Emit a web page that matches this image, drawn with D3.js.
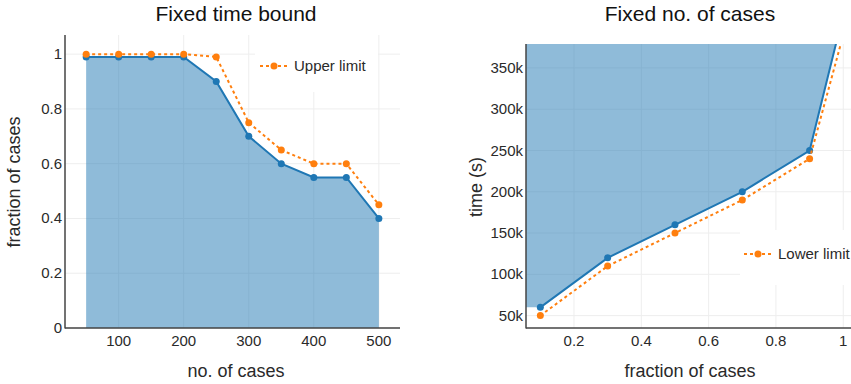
<!DOCTYPE html>
<html>
<head>
<meta charset="utf-8">
<script src="https://cdn.jsdelivr.net/npm/d3@7"></script>
<style>
  body { margin: 0; background: #fff; }
  svg { display: block; font-family: "Liberation Sans", Arial, sans-serif; }
</style>
</head>
<body>
<svg id="chart" width="851" height="384"></svg>
<script>
// left panel: fixed time bound
const casesX = [50, 100, 150, 200, 250, 300, 350, 400, 450, 500];
const fractionSolved = [0.99, 0.99, 0.99, 0.99, 0.90, 0.70, 0.60, 0.55, 0.55, 0.40];
const fractionUpper = [1.0, 1.0, 1.0, 1.0, 0.99, 0.75, 0.65, 0.60, 0.60, 0.45];
const leftXTicks = [100, 200, 300, 400, 500];
const leftYTicks = [0, 0.2, 0.4, 0.6, 0.8, 1];

// right panel: fixed no. of cases
const fractionX = [0.1, 0.3, 0.5, 0.7, 0.9, 1.0];
const timeNeeded = [60000, 120000, 160000, 200000, 250000, 415000];
const timeLower = [50000, 110000, 150000, 190000, 240000, 390000];
const rightXTicks = [0.2, 0.4, 0.6, 0.8, 1];
const rightYTicks = [50000, 100000, 150000, 200000, 250000, 300000, 350000];

const blue = '#1f77b4', orange = '#ff7f0e';
const svg = d3.select('#chart');

function panel(cfg) {
  const g = svg.append('g');
  const x = d3.scaleLinear().domain(cfg.xDomain).range([cfg.left, cfg.right]);
  const y = d3.scaleLinear().domain(cfg.yDomain).range([cfg.bottom, cfg.top]);

  const clipId = 'clip-' + cfg.id;
  svg.append('clipPath').attr('id', clipId)
    .append('rect')
    .attr('x', cfg.left).attr('y', cfg.top)
    .attr('width', cfg.right - cfg.left).attr('height', cfg.bottom - cfg.top);

  // grid
  g.append('g').selectAll('line.gx').data(cfg.xTicks).enter().append('line')
    .attr('x1', d => x(d)).attr('x2', d => x(d))
    .attr('y1', cfg.top).attr('y2', cfg.bottom)
    .attr('stroke', '#eee').attr('stroke-width', 1);
  g.append('g').selectAll('line.gy').data(cfg.yTicks).enter().append('line')
    .attr('x1', cfg.left).attr('x2', cfg.right)
    .attr('y1', d => y(d)).attr('y2', d => y(d))
    .attr('stroke', '#eee').attr('stroke-width', 1);

  // legend background hides grid
  g.append('rect')
    .attr('x', cfg.legend.x).attr('y', cfg.legend.y)
    .attr('width', cfg.legend.w).attr('height', cfg.legend.h)
    .attr('fill', '#fff');

  const plot = g.append('g').attr('clip-path', `url(#${clipId})`);

  plot.append('path')
    .attr('d', cfg.fillPath(x, y))
    .attr('fill', blue).attr('fill-opacity', 0.5);

  const line = d3.line().x(d => x(d[0])).y(d => y(d[1]));
  const main = cfg.xs.map((v, i) => [v, cfg.main[i]]);
  const bound = cfg.xs.map((v, i) => [v, cfg.bound[i]]);

  plot.append('path').attr('d', line(main))
    .attr('fill', 'none').attr('stroke', blue).attr('stroke-width', 2);
  plot.selectAll('circle.m').data(main).enter().append('circle')
    .attr('cx', d => x(d[0])).attr('cy', d => y(d[1])).attr('r', 3.5)
    .attr('fill', blue);

  plot.append('path').attr('d', line(bound))
    .attr('fill', 'none').attr('stroke', orange).attr('stroke-width', 2)
    .attr('stroke-dasharray', '3,3');
  plot.selectAll('circle.b').data(bound).enter().append('circle')
    .attr('cx', d => x(d[0])).attr('cy', d => y(d[1])).attr('r', 3.5)
    .attr('fill', orange);

  // axes lines
  g.append('line').attr('x1', cfg.left).attr('x2', cfg.left)
    .attr('y1', cfg.top).attr('y2', cfg.bottom + 0.5)
    .attr('stroke', '#444').attr('stroke-width', 1.5);
  g.append('line').attr('x1', cfg.left).attr('x2', cfg.right)
    .attr('y1', cfg.bottom).attr('y2', cfg.bottom)
    .attr('stroke', '#444').attr('stroke-width', 1.5);

  // tick labels
  g.append('g').selectAll('text').data(cfg.xTicks).enter().append('text')
    .attr('x', d => x(d)).attr('y', cfg.bottom + 18)
    .attr('text-anchor', 'middle').attr('font-size', 15).attr('fill', '#2a2a2a')
    .text(cfg.xFormat);
  g.append('g').selectAll('text').data(cfg.yTicks).enter().append('text')
    .attr('x', cfg.left - 3).attr('y', d => y(d) + 5)
    .attr('text-anchor', 'end').attr('font-size', 15).attr('fill', '#2a2a2a')
    .text(cfg.yFormat);

  // titles
  g.append('text').attr('x', cfg.titleX).attr('y', 21)
    .attr('text-anchor', 'middle').attr('font-size', 21).attr('fill', '#111')
    .text(cfg.title);
  g.append('text').attr('x', cfg.titleX).attr('y', 377)
    .attr('text-anchor', 'middle').attr('font-size', 18).attr('fill', '#2a2a2a')
    .text(cfg.xTitle);
  g.append('text')
    .attr('transform', `translate(${cfg.yTitleX},${cfg.yTitleY}) rotate(-90)`)
    .attr('text-anchor', 'middle').attr('font-size', 18).attr('fill', '#2a2a2a')
    .text(cfg.yTitle);

  // legend entry
  const lg = g.append('g');
  lg.append('line').attr('x1', cfg.legend.sx).attr('x2', cfg.legend.sx + 27)
    .attr('y1', cfg.legend.sy).attr('y2', cfg.legend.sy)
    .attr('stroke', orange).attr('stroke-width', 2).attr('stroke-dasharray', '3,3');
  lg.append('circle').attr('cx', cfg.legend.sx + 14).attr('cy', cfg.legend.sy)
    .attr('r', 3.5).attr('fill', orange);
  lg.append('text').attr('x', cfg.legend.sx + 34).attr('y', cfg.legend.sy + 5)
    .attr('font-size', 15).attr('fill', '#2a2a2a').text(cfg.legend.label);
}

panel({
  id: 'left', left: 65, right: 400, top: 35, bottom: 328,
  xDomain: [17.5, 532.5], yDomain: [0, 1.07],
  xTicks: leftXTicks, yTicks: leftYTicks,
  xFormat: d => d, yFormat: d => d,
  xs: casesX, main: fractionSolved, bound: fractionUpper,
  fillPath: (x, y) => d3.area().x(d => x(d[0])).y0(y(0)).y1(d => y(d[1]))(
    casesX.map((v, i) => [v, fractionSolved[i]])),
  title: 'Fixed time bound', titleX: 236,
  xTitle: 'no. of cases', yTitle: 'fraction of cases', yTitleX: 20, yTitleY: 182,
  legend: { x: 255, y: 35, w: 123, h: 57, sx: 260, sy: 66, label: 'Upper limit' }
});

panel({
  id: 'right', left: 526, right: 860, top: 44, bottom: 328,
  xDomain: [0.0574, 1.0497], yDomain: [35000, 379000],
  xTicks: rightXTicks, yTicks: rightYTicks,
  xFormat: d => d, yFormat: d => (d / 1000) + 'k',
  xs: fractionX, main: timeNeeded, bound: timeLower,
  fillPath: (x, y) => {
    const xd = x.domain(), yd = y.domain();
    const pts = [[xd[0], timeNeeded[0]]]
      .concat(fractionX.map((v, i) => [v, timeNeeded[i]]))
      .concat([[fractionX[fractionX.length - 1], yd[1] * 2], [xd[0], yd[1] * 2]]);
    return 'M' + pts.map(d => x(d[0]) + ',' + y(d[1])).join('L') + 'Z';
  },
  title: 'Fixed no. of cases', titleX: 690,
  xTitle: 'fraction of cases', yTitle: 'time (s)', yTitleX: 482, yTitleY: 187,
  legend: { x: 740, y: 230, w: 120, h: 55, sx: 744, sy: 254, label: 'Lower limit' }
});
</script>
</body>
</html>
